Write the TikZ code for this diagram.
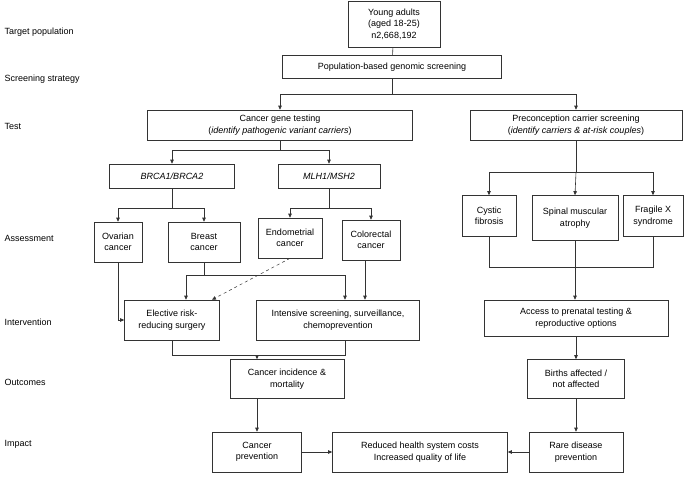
\documentclass[tikz,border=0pt]{standalone}
\usepackage{fontspec}
\setmainfont{Liberation Sans}
\usetikzlibrary{arrows.meta,positioning}
\begin{document}
\begin{tikzpicture}[x=1pt,y=-1pt,
	box/.style={rectangle, draw=black!80, line width=0.6pt, align=center, inner sep=2pt, font=\fontsize{9}{11.5}\selectfont},
	lab/.style={anchor=west, font=\fontsize{9}{11}\selectfont},
	line/.style={draw=black!80, line width=0.6pt},
	arr/.style={line, -{Triangle[length=4pt,width=3.5pt]}}]

		\useasboundingbox (0,0) rectangle (685,477);

		% row labels
		\node[lab](labTarget) at (1,32){Target population};
		\node[lab](labStrategy) at (1,79){Screening strategy};
		\node[lab](labTest) at (1,126){Test};
		\node[lab](labAssess) at (1,238){Assessment};
		\node[lab](labInterv) at (1,322){Intervention};
		\node[lab](labOutcome) at (1,382){Outcomes};
		\node[lab](labImpact) at (1,444){Impact};

		% boxes
		\node[box, minimum width=92, minimum height=46](young) at (394,24){Young adults\\(aged 18-25)\\n2,668,192};
		\node[box, minimum width=219, minimum height=23](popBox) at (392,67){Population-based genomic screening};
		\node[box, minimum width=265, minimum height=30](cancerTest) at (280,125){Cancer gene testing\\(\textit{identify pathogenic variant carriers})};
		\node[box, minimum width=212, minimum height=30](carrierTest) at (576,125){Preconception carrier screening\\(\textit{identify carriers \& at-risk couples})};
		\node[box, minimum width=125, minimum height=24](brca) at (172,176){\textit{BRCA1/BRCA2}};
		\node[box, minimum width=102, minimum height=24](mlh) at (329,176){\textit{MLH1/MSH2}};
		\node[box, minimum width=48, minimum height=40](ovarian) at (118,242){Ovarian\\cancer};
		\node[box, minimum width=72, minimum height=40](breast) at (204,242){Breast\\cancer};
		\node[box, minimum width=64, minimum height=40](endo) at (290,238){Endometrial\\cancer};
		\node[box, minimum width=58, minimum height=40](colo) at (371,240){Colorectal\\cancer};
		\node[box, minimum width=95, minimum height=40](surgery) at (172,320){Elective risk-\\reducing surgery};
		\node[box, minimum width=163, minimum height=40](screen) at (338,320){Intensive screening, surveillance,\\chemoprevention};
		\node[box, minimum width=54, minimum height=41](cf) at (489,216){Cystic\\fibrosis};
		\node[box, minimum width=86, minimum height=45](sma) at (575,218){Spinal muscular\\atrophy};
		\node[box, minimum width=60, minimum height=41](fragx) at (653,216){Fragile X\\syndrome};
		\node[box, minimum width=184, minimum height=36](access) at (576,318){Access to prenatal testing \&\\reproductive options};
		\node[box, minimum width=97, minimum height=39](births) at (576,379){Births affected /\\not affected};
		\node[box, minimum width=114, minimum height=39](incidence) at (287,379){Cancer incidence \&\\mortality};
		\node[box, minimum width=89, minimum height=40](cancerPrev) at (257,452){Cancer\\prevention};
		\node[box, minimum width=175, minimum height=40](costs) at (420,452){Reduced health system costs\\Increased quality of life};
		\node[box, minimum width=94, minimum height=40](rarePrev) at (576,452){Rare disease\\prevention};

		% junction points
		\coordinate(j1) at (392,94);
		\coordinate(j2) at (280,150);
		\coordinate(j3) at (172,208);
		\coordinate(j4) at (329,208);
		\coordinate(j5) at (204,275);
		\coordinate(j6) at (576,172);
		\coordinate(j7) at (575,267);
		\coordinate(j8) at (257,355);
		\coordinate(coloOut) at (365,260);

		% connectors
		\draw[line] (young) -- (popBox);
		\draw[line] (popBox) -- (j1);
		\draw[arr] (j1) -| (cancerTest.north);
		\draw[arr] (j1) -| (carrierTest.north);
		\draw[line] (cancerTest) -- (j2);
		\draw[arr] (j2) -| (brca.north);
		\draw[arr] (j2) -| (mlh.north);
		\draw[line] (brca) -- (j3);
		\draw[arr] (j3) -| (ovarian.north);
		\draw[arr] (j3) -| (breast.north);
		\draw[line] (mlh) -- (j4);
		\draw[arr] (j4) -| (endo.north);
		\draw[arr] (j4) -| (colo.north);
		\draw[arr] (ovarian.south) |- (surgery.west);
		\draw[line] (breast.south) -- (j5);
		\draw[arr] (j5) -| ([xshift=14pt]surgery.north);
		\draw[arr] (j5) -| ([xshift=7pt]screen.north);
		\draw[arr, dashed, line width=0.5pt] (endo.south) -- ([xshift=40pt]surgery.north);
		\draw[arr] (coloOut) -- (coloOut |- screen.north);
		\draw[line] (surgery.south) |- (j8);
		\draw[line] ([xshift=7pt]screen.south) |- (j8);
		\draw[arr] (j8) -- (j8 |- incidence.north);
		\draw[arr] (j8 |- incidence.south) -- (cancerPrev);
		\draw[line] (carrierTest) -- (j6);
		\draw[arr] (j6) -| (cf.north);
		\draw[arr] (j6) -- (sma.north);
		\draw[arr] (j6) -| (fragx.north);
		\draw[line] (cf.south) |- (j7);
		\draw[line] (fragx.south) |- (j7);
		\draw[line] (sma.south) -- (j7);
		\draw[arr] (j7) -- (j7 |- access.north);
		\draw[arr] (access) -- (births);
		\draw[arr] (births) -- (rarePrev);
		\draw[arr] (rarePrev) -- (costs);
		\draw[arr] (cancerPrev) -- (costs);
	\end{tikzpicture}
\end{document}
